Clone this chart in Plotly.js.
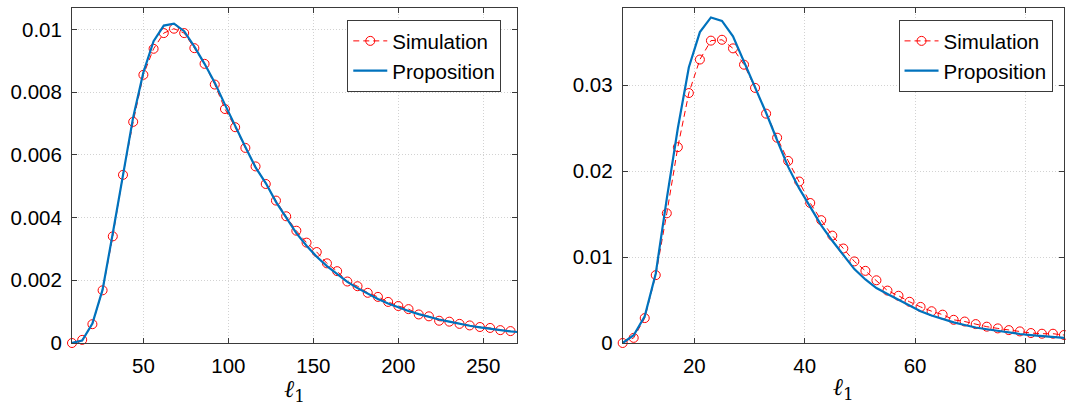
<!DOCTYPE html>
<html>
<head>
<meta charset="utf-8">
<script src="https://cdn.plot.ly/plotly-3.0.1.min.js"></script>
<style>html,body{margin:0;padding:0;background:#fff;}#chart{width:1066px;height:406px;}</style>
</head>
<body>
<div id="chart"></div>
<script>
// ---- Left panel data ----
const leftSimX = [8,14,20,26,32,38,44,50,56,62,68,74,80,86,92,98,104,110,116,122,128,134,140,146,152,158,164,170,176,182,188,194,200,206,212,218,224,230,236,242,248,254,260,266];
const leftSimY = [0,0.0001,0.0006,0.00168,0.0034,0.00536,0.00705,0.00855,0.00938,0.00988,
  0.01002,0.00988,0.0094,0.0089,0.00824,0.00746,0.00688,0.00622,0.00563,0.00507,
  0.00454,0.00404,0.00358,0.0032,0.0029,0.00254,0.00229,0.00196,0.00181,0.0016,
  0.00147,0.00131,0.00118,0.00108,0.00091,0.00085,0.00071,0.00068,0.00061,0.00056,
  0.00051,0.00048,0.00041,0.00038];
const leftPropX = [8,14,20,26,32,38,44,50,56,62,68,74,80,86,92,98,104,110,116,122,128,134,140,146,152,158,164,170,176,182,188,194,200,206,212,218,224,230,236,242,248,254,260,266,270];
const leftPropY = [0,0.00008,0.00062,0.0017,0.0035,0.0054,0.0072,0.00863,0.00962,0.01012,
  0.01018,0.00994,0.00945,0.0089,0.0083,0.0076,0.0069,0.00625,0.0056,0.0051,
  0.0045,0.0040,0.0035,0.0031,0.00275,0.00245,0.0022,0.00195,0.00175,0.00157,
  0.0014,0.00126,0.00113,0.00102,0.00092,0.00083,0.00075,0.00068,0.00061,0.00055,
  0.0005,0.00045,0.00041,0.00037,0.00035];
const leftXTicks = [50,100,150,200,250];
const leftXTickText = ['50','100','150','200','250'];
const leftYTicks = [0,0.002,0.004,0.006,0.008,0.01];
const leftYTickText = ['0','0.002','0.004','0.006','0.008','0.01'];

// ---- Right panel data ----
const rightX = [7,9,11,13,15,17,19,21,23,25,27,29,31,33,35,37,39,41,43,45,47,49,51,53,55,57,59,61,63,65,67,69,71,73,75,77,79,81,83,85,87];
const rightSimY = [0,0.0006,0.0029,0.0079,0.0151,0.0228,0.0291,0.0330,0.0352,0.0353,
  0.0343,0.0324,0.0297,0.0267,0.0239,0.0212,0.0188,0.0163,0.0143,0.0125,
  0.0110,0.0095,0.0084,0.0073,0.0061,0.0055,0.0048,0.0042,0.0037,0.0033,
  0.0027,0.0025,0.0022,0.0019,0.0017,0.0015,0.00135,0.00116,0.00108,0.00108,0.00093];
const rightPropY = [0,0.0009,0.0031,0.0081,0.0168,0.0250,0.0321,0.0362,0.0379,0.0375,
  0.0357,0.0328,0.0298,0.0268,0.0236,0.0205,0.0180,0.0158,0.0137,0.0119,
  0.0103,0.0086,0.0074,0.0064,0.0057,0.0050,0.0043,0.0037,0.0032,0.0028,
  0.0024,0.0021,0.0018,0.0016,0.0014,0.0012,0.00105,0.00092,0.0008,0.0007,0.0006];
const rightXTicks = [20,40,60,80];
const rightXTickText = ['20','40','60','80'];
const rightYTicks = [0,0.01,0.02,0.03];
const rightYTickText = ['0','0.01','0.02','0.03'];

const seriesNames = ['Simulation','Proposition'];
const xTitle = 'ℓ<sub><span style="font-style:normal">1</span></sub>';

const RED = '#ff0000', BLUE = '#0072BD';
const FONT = 'Liberation Sans, Arial, Helvetica, sans-serif';

function simTrace(x, y, xa, ya, leg) {
  return {x: x, y: y, xaxis: xa, yaxis: ya, name: seriesNames[0], legend: leg,
    type: 'scatter', mode: 'lines+markers', cliponaxis: false,
    line: {color: RED, width: 1, dash: '6px,4px'},
    marker: {symbol: 'circle-open', size: 9, color: RED, line: {color: RED, width: 1}}};
}
function propTrace(x, y, xa, ya, leg) {
  return {x: x, y: y, xaxis: xa, yaxis: ya, name: seriesNames[1], legend: leg,
    type: 'scatter', mode: 'lines', line: {color: BLUE, width: 2.2}};
}

const data = [
  simTrace(leftSimX, leftSimY, 'x', 'y', 'legend'),
  propTrace(leftPropX, leftPropY, 'x', 'y', 'legend'),
  simTrace(rightX, rightSimY, 'x2', 'y2', 'legend2'),
  propTrace(rightX, rightPropY, 'x2', 'y2', 'legend2')
];

function xaxis(domain, range, tv, tt, anchor) {
  return {domain: domain, range: range, anchor: anchor, tickvals: tv, ticktext: tt,
    showline: true, linecolor: '#3a3a3a', linewidth: 1, mirror: 'ticks',
    ticks: 'inside', ticklen: 5, tickcolor: '#3a3a3a', tickwidth: 1,
    showgrid: true, gridcolor: '#d2d2d2', griddash: '1px,2px', gridwidth: 1,
    zeroline: false, ticklabelstandoff: 4,
    tickfont: {family: FONT, size: 20.5, color: '#000'},
    title: {text: xTitle, standoff: 2,
      font: {family: 'DejaVu Serif, serif', size: 24, style: 'italic', color: '#000'}}};
}
function yaxis(range, tv, tt, anchor) {
  return {domain: [0, 1], range: range, anchor: anchor, tickvals: tv, ticktext: tt,
    showline: true, linecolor: '#3a3a3a', linewidth: 1, mirror: 'ticks',
    ticks: 'inside', ticklen: 5, tickcolor: '#3a3a3a', tickwidth: 1,
    showgrid: true, gridcolor: '#d2d2d2', griddash: '1px,2px', gridwidth: 1,
    zeroline: false, ticklabelstandoff: 5,
    tickfont: {family: FONT, size: 20.5, color: '#000'}};
}

const legendStyle = {bgcolor: '#fff', bordercolor: '#3a3a3a', borderwidth: 1,
  font: {family: FONT, size: 20.5, color: '#000'}, xanchor: 'left', yanchor: 'top',
  tracegroupgap: 0, itemwidth: 34};

const layout = {
  width: 1066, height: 406,
  margin: {l: 72, r: 2, t: 8, b: 63},
  paper_bgcolor: '#fff', plot_bgcolor: '#fff',
  showlegend: true,
  xaxis: xaxis([0, 0.4489], [8, 270], leftXTicks, leftXTickText, 'y'),
  yaxis: yaxis([0, 0.01068], leftYTicks, leftYTickText, 'x'),
  xaxis2: xaxis([0.5551, 1], [7, 87], rightXTicks, rightXTickText, 'y2'),
  yaxis2: yaxis([0, 0.039], rightYTicks, rightYTickText, 'x2'),
  legend: Object.assign({x: 0.2775, y: 0.964}, legendStyle),
  legend2: Object.assign({x: 0.8332, y: 0.964}, legendStyle)
};

Plotly.newPlot('chart', data, layout, {displayModeBar: false, staticPlot: true});
</script>
</body>
</html>
